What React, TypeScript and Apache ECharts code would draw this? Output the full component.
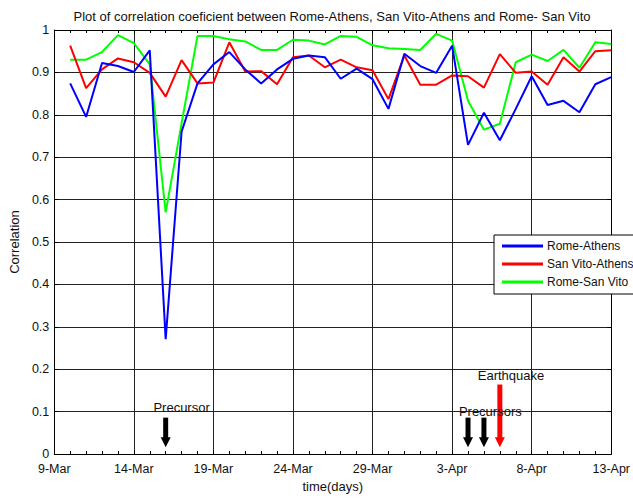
import React, { useEffect, useRef } from 'react';
import * as echarts from 'echarts';

// x ticks: days since 9-Mar, every 5 days
const xTickLabels = ['9-Mar', '14-Mar', '19-Mar', '24-Mar', '29-Mar', '3-Apr', '8-Apr', '13-Apr'];

// daily observations, 10-Mar .. 13-Apr
const dates = [
  '10-Mar', '11-Mar', '12-Mar', '13-Mar', '14-Mar', '15-Mar', '16-Mar', '17-Mar', '18-Mar', '19-Mar', '20-Mar',
  '21-Mar', '22-Mar', '23-Mar', '24-Mar', '25-Mar', '26-Mar', '27-Mar', '28-Mar', '29-Mar', '30-Mar', '31-Mar',
  '1-Apr', '2-Apr', '3-Apr', '4-Apr', '5-Apr', '6-Apr', '7-Apr', '8-Apr', '9-Apr', '10-Apr', '11-Apr', '12-Apr', '13-Apr',
];

const romeAthens = [
  0.874, 0.795, 0.922, 0.915, 0.901, 0.952, 0.271, 0.76, 0.874, 0.919, 0.948,
  0.907, 0.874, 0.907, 0.932, 0.94, 0.936, 0.885, 0.909, 0.884, 0.814, 0.944,
  0.915, 0.899, 0.963, 0.729, 0.805, 0.74, 0.814, 0.891, 0.823, 0.833, 0.806, 0.872, 0.889,
];

const sanVitoAthens = [
  0.963, 0.863, 0.907, 0.933, 0.924, 0.899, 0.843, 0.929, 0.874, 0.876, 0.971,
  0.902, 0.903, 0.872, 0.936, 0.94, 0.912, 0.93, 0.912, 0.905, 0.837, 0.94,
  0.871, 0.871, 0.893, 0.891, 0.864, 0.943, 0.899, 0.902, 0.871, 0.936, 0.902, 0.95, 0.952,
];

const romeSanVito = [
  0.93, 0.93, 0.948, 0.988, 0.969, 0.919, 0.57, 0.78, 0.986, 0.986, 0.978,
  0.973, 0.953, 0.953, 0.977, 0.975, 0.966, 0.986, 0.984, 0.964, 0.957, 0.955,
  0.953, 0.991, 0.975, 0.833, 0.765, 0.779, 0.924, 0.942, 0.927, 0.953, 0.911, 0.971, 0.967,
];

const seriesNames = ['Rome-Athens', 'San Vito-Athens', 'Rome-San Vito'];

// annotation arrows (day since 9-Mar, top value, tip value)
const arrowDays = [7, 26, 27, 28];
const arrowTops = [0.086, 0.086, 0.086, 0.164];
const arrowTip = 0.016;
const arrowKinds = ['precursor', 'precursor', 'precursor', 'earthquake'];

// annotation texts (day since 9-Mar, value)
const noteTexts = ['Precursor', 'Precursors', 'Earthquake'];
const noteDays = [8.0, 27.4, 28.7];
const noteValues = [0.109, 0.1, 0.186];

const FONT = 'Liberation Sans, Arial, sans-serif';

export default function App() {
  const ref = useRef<HTMLDivElement>(null);
  useEffect(() => {
    const chart = echarts.init(ref.current!, null, { renderer: 'svg' });
    const dayOf = (d: string) => dates.indexOf(d) + 1;
    const colors = ['#0000ff', '#ff0000', '#00ff00'];

    const lineSeries = [romeAthens, sanVitoAthens, romeSanVito].map((vals, k) => ({
      name: seriesNames[k],
      type: 'line',
      data: vals.map((v, i) => [dayOf(dates[i]), v]),
      showSymbol: false,
      symbol: 'none',
      lineStyle: { width: 2, color: colors[k] },
      itemStyle: { color: colors[k] },
      z: 3 + (2 - k),
    }));

    const option: any = {
      animation: false,
      backgroundColor: '#fff',
      textStyle: { fontFamily: FONT },
      grid: { left: 54, right: 20, top: 30, bottom: 36, containLabel: false },
      graphic: [
        {
          type: 'text',
          x: 332,
          y: 16,
          style: {
            text: 'Plot of correlation coeficient between Rome-Athens, San Vito-Athens and Rome- San Vito',
            fill: '#111',
            font: `13px ${FONT}`,
            align: 'center',
            verticalAlign: 'middle',
          },
        },
      ],
      legend: {
        data: seriesNames,
        orient: 'vertical',
        left: 494,
        top: 235,
        padding: [4, 8, 5, 8],
        itemGap: 4,
        itemWidth: 41,
        itemHeight: 3,
        icon: 'rect',
        backgroundColor: '#fff',
        borderColor: '#000',
        borderWidth: 1,
        borderRadius: 0,
        textStyle: { fontFamily: FONT, fontSize: 12, color: '#111', lineHeight: 14, padding: [0, 0, 0, -1] },
      },
      xAxis: [
        {
          type: 'value',
          min: 0,
          max: 35,
          interval: 5,
          name: 'time(days)',
          nameLocation: 'middle',
          nameGap: 23,
          nameTextStyle: { fontFamily: FONT, fontSize: 13, color: '#111' },
          axisLine: { show: true, lineStyle: { color: '#000', width: 1 } },
          axisTick: { show: true, inside: true, length: 4, lineStyle: { color: '#000' } },
          minorTick: { show: true, splitNumber: 5, length: 3, lineStyle: { color: '#000' } },
          axisLabel: {
            fontFamily: FONT,
            fontSize: 12.5,
            color: '#111',
            margin: 8,
            formatter: (v: number) => xTickLabels[Math.round(v / 5)] ?? '',
          },
          splitLine: { show: true, lineStyle: { color: '#222', width: 1 } },
        },
        {
          type: 'value',
          position: 'top',
          min: 0,
          max: 35,
          interval: 5,
          axisLine: { show: true, onZero: false, lineStyle: { color: '#000', width: 1 } },
          axisTick: { show: true, inside: true, length: 4, lineStyle: { color: '#000' } },
          minorTick: { show: true, splitNumber: 5, length: 3, lineStyle: { color: '#000' } },
          axisLabel: { show: false },
          splitLine: { show: false },
        },
      ],
      yAxis: [
        {
          type: 'value',
          min: 0,
          max: 1,
          interval: 0.1,
          name: 'Correlation',
          nameLocation: 'middle',
          nameGap: 26,
          nameTextStyle: { fontFamily: FONT, fontSize: 13, color: '#111' },
          axisLine: { show: true, lineStyle: { color: '#000', width: 1 } },
          axisTick: { show: true, inside: true, length: 4, lineStyle: { color: '#000' } },
          axisLabel: { fontFamily: FONT, fontSize: 12.5, color: '#111', margin: 5 },
          splitLine: { show: true, lineStyle: { color: '#222', width: 1 } },
        },
        {
          type: 'value',
          position: 'right',
          min: 0,
          max: 1,
          interval: 0.1,
          axisLine: { show: true, onZero: false, lineStyle: { color: '#000', width: 1 } },
          axisTick: { show: true, inside: true, length: 4, lineStyle: { color: '#000' } },
          axisLabel: { show: false },
          splitLine: { show: false },
        },
      ],
      series: [
        ...lineSeries,
        {
          type: 'custom',
          name: 'arrows',
          xAxisIndex: 0,
          yAxisIndex: 0,
          clip: false,
          z: 10,
          data: arrowDays.map((d, i) => [d, arrowTops[i], arrowTip]),
          renderItem: (params: any, api: any) => {
            const top = api.coord([api.value(0), api.value(1)]);
            const tip = api.coord([api.value(0), api.value(2)]);
            const color = arrowKinds[params.dataIndex] === 'earthquake' ? '#ff0000' : '#000000';
            const headLen = 10;
            const shaftW = 5;
            const headW = 10;
            return {
              type: 'group',
              children: [
                {
                  type: 'rect',
                  shape: { x: top[0] - shaftW / 2, y: top[1], width: shaftW, height: tip[1] - headLen - top[1] + 1 },
                  style: { fill: color },
                },
                {
                  type: 'polygon',
                  shape: {
                    points: [
                      [tip[0] - headW / 2, tip[1] - headLen],
                      [tip[0] + headW / 2, tip[1] - headLen],
                      [tip[0], tip[1]],
                    ],
                  },
                  style: { fill: color },
                },
              ],
            };
          },
        },
        {
          type: 'custom',
          name: 'notes',
          xAxisIndex: 0,
          yAxisIndex: 0,
          clip: false,
          z: 11,
          data: noteDays.map((d, i) => [d, noteValues[i]]),
          renderItem: (params: any, api: any) => {
            const p = api.coord([api.value(0), api.value(1)]);
            return {
              type: 'text',
              x: p[0],
              y: p[1],
              style: {
                text: noteTexts[params.dataIndex],
                fill: '#111',
                font: `13px ${FONT}`,
                align: 'center',
                verticalAlign: 'middle',
              },
            };
          },
        },
      ],
    };
    chart.setOption(option);
    return () => chart.dispose();
  }, []);
  return (
    <div
      ref={ref}
      style={{ position: 'fixed', left: 0, top: 0, width: 633, height: 498, background: '#fff' }}
    />
  );
}
